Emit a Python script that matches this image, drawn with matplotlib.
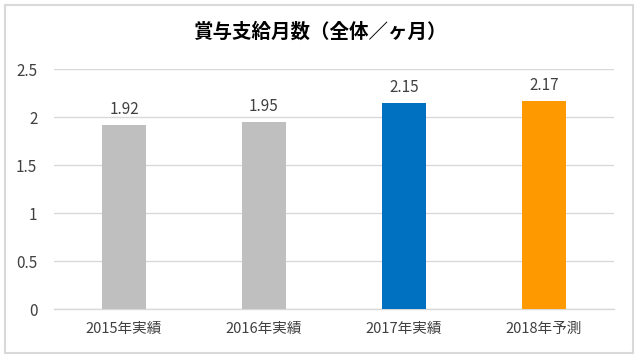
import matplotlib.pyplot as plt
from matplotlib.patches import Rectangle

plt.rcParams['font.family'] = ['Noto Sans CJK JP', 'DejaVu Sans']

categories = ['2015年実績', '2016年実績', '2017年実績', '2018年予測']
values = [1.92, 1.95, 2.15, 2.17]
labels = ['1.92', '1.95', '2.15', '2.17']
colors = ['#BFBFBF', '#BFBFBF', '#0070C0', '#FF9900']
yticks = [0, 0.5, 1, 1.5, 2, 2.5]
ytick_labels = ['0', '0.5', '1', '1.5', '2', '2.5']

fig = plt.figure(figsize=(6.4, 3.59), dpi=100)
ax = fig.add_axes([54/640, 50/359, 560/640, 240/359])

x = range(len(categories))
bars = ax.bar(x, values, width=0.32, color=colors, zorder=3)
for b, t in zip(bars, labels):
    ax.annotate(t, (b.get_x() + b.get_width()/2, b.get_height()),
                xytext=(0, 5), textcoords='offset points',
                ha='center', va='bottom', fontsize=11, color='#404040')

ax.set_xlim(-0.5, 3.5)
ax.set_ylim(0, 2.5)
ax.set_xticks(list(x))
ax.set_xticklabels(categories, fontsize=10.5, color='#404040')
ax.set_yticks(yticks)
ax.set_yticklabels(ytick_labels, fontsize=11, color='#404040')
ax.tick_params(axis='y', length=0, pad=12)
ax.tick_params(axis='x', length=0, pad=9)
ax.grid(axis='y', color='#D9D9D9', lw=1, zorder=0)
for s in ['left', 'right', 'top']:
    ax.spines[s].set_visible(False)
ax.spines['bottom'].set_color('#D9D9D9')
ax.spines['bottom'].set_linewidth(1)

fig.text(0.5, 1 - 32/359, '賞与支給月数（全体／ヶ月）', ha='center', va='center',
         fontsize=14, fontweight='bold', color='#000000')

fig.patches.append(Rectangle((5/640, 1 - 353/359), 629/640 - 1/640, 348/359,
                             transform=fig.transFigure, fill=False,
                             edgecolor='#D9D9D9', lw=1.5))

fig.savefig('out.png', dpi=100)
